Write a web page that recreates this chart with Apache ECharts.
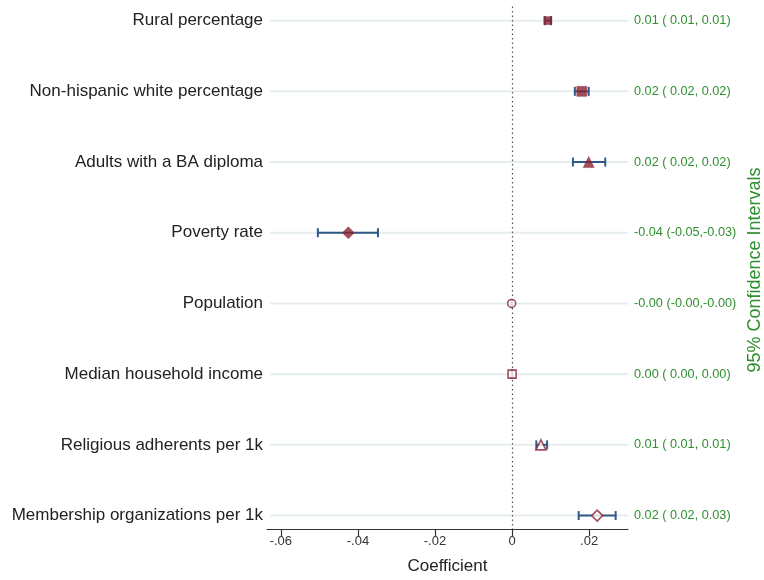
<!DOCTYPE html>
<html>
<head>
<meta charset="utf-8">
<script src="https://cdn.jsdelivr.net/npm/echarts@6/dist/echarts.min.js"></script>
<style>
  html, body { margin: 0; padding: 0; background: #fff; }
  #chart { width: 764px; height: 580px; }
</style>
</head>
<body>
<div id="chart"></div>
<script>
// Regression coefficients with 95% confidence intervals
const categories = [
  'Rural percentage',
  'Non-hispanic white percentage',
  'Adults with a BA diploma',
  'Poverty rate',
  'Population',
  'Median household income',
  'Religious adherents per 1k',
  'Membership organizations per 1k'
];
const coef   = [0.0093, 0.0181, 0.0199, -0.0425, -0.0001, 0.00002, 0.0075, 0.0221];
const ciLow  = [0.0085, 0.0163, 0.0158, -0.0504, -0.00015, 0.00001, 0.0063, 0.0173];
const ciHigh = [0.0101, 0.0199, 0.0242, -0.0348, -0.00005, 0.00003, 0.0091, 0.0269];
const xTicks = [-0.06, -0.04, -0.02, 0, 0.02];

// marker look per row: shape, size, filled or hollow
const markerStyles = [
  { symbol: 'rect', size: 8, filled: true },
  { symbol: 'rect', size: 10, filled: true },
  { symbol: 'triangle', size: 11, filled: true },
  { symbol: 'diamond', size: 12, filled: true },
  { symbol: 'circle', size: 8, filled: false },
  { symbol: 'rect', size: 8, filled: false },
  { symbol: 'triangle', size: 10, filled: false },
  { symbol: 'diamond', size: 11, filled: false }
];

const FONT = '"Liberation Sans", Arial, Helvetica, sans-serif';
const RED = '#8c2232';
const BLUE = '#2f5a87';
const GREEN = '#2f8f2f';

const rows = categories.map((_, i) => i + 1);

function fmt(x) { return x.toFixed(2); }
function pad(x) { return x < 0 ? fmt(x) : ' ' + fmt(x); }
const ciText = coef.map((c, i) => fmt(c) + ' (' + pad(ciLow[i]) + ',' + pad(ciHigh[i]) + ')');

function tickText(v) {
  if (Math.abs(v) < 1e-12) return '0';
  const s = Math.abs(v).toFixed(2).replace(/^0/, '');
  return (v < 0 ? '-' : '') + s;
}

const chart = echarts.init(document.getElementById('chart'), null, { renderer: 'canvas' });

const yBase = {
  type: 'value',
  inverse: true,
  min: 0.8,
  max: 8.19,
  axisLine: { show: false },
  axisTick: { show: false },
  splitLine: { show: false }
};

chart.setOption({
  backgroundColor: '#fff',
  animation: false,
  grid: { left: 267, right: 136, top: 6.5, bottom: 47.7, containLabel: false },
  xAxis: {
    type: 'value',
    min: -0.0636,
    max: 0.0301,
    name: 'Coefficient',
    nameLocation: 'middle',
    nameGap: 29,
    nameTextStyle: { fontFamily: FONT, fontSize: 17, color: '#222' },
    axisLine: { show: true, lineStyle: { color: '#333', width: 1.2 } },
    axisTick: { show: true, length: 7, customValues: xTicks, lineStyle: { color: '#333', width: 1.2 } },
    axisLabel: {
      customValues: xTicks,
      formatter: tickText,
      fontFamily: FONT, fontSize: 13, color: '#333', margin: 6
    },
    splitLine: { show: false }
  },
  yAxis: [
    Object.assign({}, yBase, {
      position: 'left',
      axisLabel: {
        customValues: rows,
        formatter: v => categories[Math.round(v) - 1],
        fontFamily: FONT, fontSize: 17, color: '#222', margin: 4
      }
    }),
    Object.assign({}, yBase, {
      position: 'right',
      axisLabel: {
        customValues: rows,
        formatter: v => ciText[Math.round(v) - 1],
        fontFamily: FONT, fontSize: 12.7, color: GREEN, margin: 6
      }
    })
  ],
  graphic: [{
    type: 'text',
    x: 755,
    y: 270,
    rotation: Math.PI / 2,
    style: {
      text: '95% Confidence Intervals',
      fontFamily: FONT,
      fontSize: 18,
      fill: GREEN,
      align: 'center',
      verticalAlign: 'middle'
    }
  }],
  series: [
    {
      // light horizontal guide line for each row, plus the dotted zero line
      type: 'custom',
      z: 1,
      silent: true,
      data: rows.map(r => [0, r]),
      renderItem: function (params, api) {
        const y = api.coord([0, api.value(1)])[1];
        const cs = params.coordSys;
        return {
          type: 'line',
          shape: { x1: cs.x + 3, y1: y, x2: cs.x + cs.width, y2: y },
          style: { stroke: '#e5edf1', lineWidth: 2 }
        };
      },
      markLine: {
        silent: true,
        symbol: 'none',
        label: { show: false },
        lineStyle: { color: '#555', type: [1.5, 3], width: 1.2 },
        data: [{ xAxis: 0 }]
      }
    },
    {
      // confidence interval whiskers with end caps
      type: 'custom',
      z: 3,
      silent: true,
      data: rows.map((r, i) => [ciLow[i], ciHigh[i], r]),
      renderItem: function (params, api) {
        const a = api.coord([api.value(0), api.value(2)]);
        const b = api.coord([api.value(1), api.value(2)]);
        const h = 4.5;
        const st = { stroke: BLUE, lineWidth: 2 };
        return {
          type: 'group',
          children: [
            { type: 'line', shape: { x1: a[0], y1: a[1], x2: b[0], y2: b[1] }, style: st },
            { type: 'line', shape: { x1: a[0], y1: a[1] - h, x2: a[0], y2: a[1] + h }, style: st },
            { type: 'line', shape: { x1: b[0], y1: b[1] - h, x2: b[0], y2: b[1] + h }, style: st }
          ]
        };
      }
    },
    {
      // point estimates
      type: 'scatter',
      z: 5,
      silent: true,
      data: rows.map((r, i) => {
        const m = markerStyles[i];
        return {
          value: [coef[i], r],
          symbol: m.symbol,
          symbolSize: m.size,
          itemStyle: m.filled
            ? { color: RED, borderColor: RED, borderWidth: 0.5 }
            : { color: '#fff', borderColor: RED, borderWidth: 1.6 }
        };
      })
    }
  ]
});
</script>
</body>
</html>
